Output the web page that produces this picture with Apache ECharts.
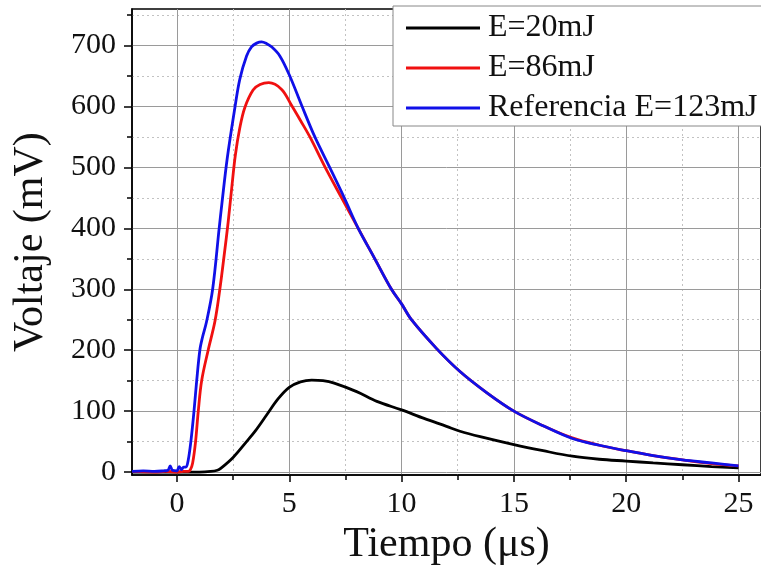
<!DOCTYPE html>
<html><head><meta charset="utf-8">
<script src="https://cdn.jsdelivr.net/npm/echarts@6/dist/echarts.min.js"></script>
<style>html,body{margin:0;padding:0;background:#fff}#c{width:761px;height:571px}</style>
</head><body><div id="c"></div>
<script>
// ---- data ----
const seriesNames = ['E=20mJ', 'E=86mJ', 'Referencia E=123mJ'];

const blackX = [-2, -1, 0, 1, 1.5, 1.8, 1.95, 2.5, 3.1, 3.5, 4.0, 4.5, 5.0, 5.5, 6.0, 6.5, 7.0, 8.0, 8.9, 10, 11, 12, 12.6, 13.5, 15, 16.3, 17.6, 18.8, 20, 21.2, 22.5, 23.8, 25];
const blackY = [0, 0, 0, 0, 1, 3, 6, 24, 50, 68, 94, 120, 139, 148, 151, 150, 146, 132, 116, 102, 88, 75, 67, 58, 45, 35, 26, 21, 18, 15, 12, 9, 7];

const redX = [-2, -1, -0.5, 0, 0.3, 0.5, 0.6, 0.7, 0.83, 0.95, 1.1, 1.39, 1.69, 1.91, 2.1, 2.28, 2.45, 2.6, 2.8, 3.02, 3.39, 3.7, 4.09, 4.66, 5.1, 5.5, 5.92, 6.6, 7.33, 8.07, 8.81, 9.55, 10.0, 10.44, 11.55, 12.6, 13.8, 15.0, 16.3, 17.6, 18.8, 20.0, 21.2, 22.5, 23.8, 25];
const redY = [1, 0, 1, 0, 1, 1, 4, 15, 50, 100, 150, 200, 247, 300, 355, 410, 470, 520, 565, 598, 627, 636, 639, 628, 602, 577, 550, 500, 450, 400, 350, 300, 276, 250, 203, 165, 130, 100, 76, 56, 44, 35, 27, 20, 14, 10];

const blueX = [-2, -1.5, -1, -0.6, -0.4, -0.3, -0.2, 0, 0.1, 0.2, 0.3, 0.4, 0.5, 0.62, 0.76, 0.88, 1.02, 1.13, 1.32, 1.59, 1.88, 2.0, 2.24, 2.58, 2.8, 3.1, 3.32, 3.55, 3.77, 4.0, 4.21, 4.58, 5.0, 5.55, 6.14, 6.8, 7.45, 8.07, 8.81, 9.55, 10.0, 10.44, 11.55, 12.6, 13.8, 15.0, 16.3, 17.6, 18.8, 20.0, 21.2, 22.5, 23.8, 25];
const blueY = [1, 2, 1, 2, 3, 10, 3, 2, 9, 4, 8, 8, 19, 50, 100, 150, 200, 220, 247, 300, 400, 440, 515, 598, 645, 683, 698, 704, 706, 703, 698, 683, 652, 602, 550, 500, 450, 400, 350, 300, 276, 250, 203, 165, 130, 100, 76, 55, 44, 35, 27, 20, 15, 10];

const xMajorTicks = [0, 5, 10, 15, 20, 25];
const xMinorTicks = [2.5, 7.5, 12.5, 17.5, 22.5];
const yMajorTicks = [0, 100, 200, 300, 400, 500, 600, 700];
const yMinorTicks = [50, 150, 250, 350, 450, 550, 650, 750];

const xTitle = 'Tiempo (μs)';
const yTitle = 'Voltaje (mV)';

// ---- chart ----
const FONT = '"Liberation Serif", "Times New Roman", serif';
const pairs = (xs, ys) => xs.map((x, i) => [x, ys[i]]);
const chart = echarts.init(document.getElementById('c'), null, {renderer: 'canvas'});

const tickStyle = {color: '#000', width: 1.5};
const majorGrid = {show: true, lineStyle: {color: '#9a9a9a', width: 1, type: 'solid'}};
const minorGrid = {show: true, lineStyle: {color: '#c2c2c2', width: 1, type: [2, 3]}};

function mkSeries(name, xs, ys, color) {
  return {
    name, type: 'line', data: pairs(xs, ys), xAxisIndex: 0, yAxisIndex: 0,
    showSymbol: false, symbol: 'none', smooth: 0.35,
    lineStyle: {color, width: 2.8}, itemStyle: {color}, z: 3
  };
}

chart.setOption({
  animation: false,
  backgroundColor: '#fff',
  grid: {left: 132, top: 9, right: 0, bottom: 94, show: true, borderColor: '#000', borderWidth: 1.5, backgroundColor: 'transparent'},
  legend: {
    orient: 'vertical', left: 393, top: 6, padding: [6, 40, 2, 13], itemGap: 8,
    itemWidth: 74, itemHeight: 3, icon: 'rect',
    borderColor: '#888', borderWidth: 1, backgroundColor: '#fff',
    textStyle: {fontFamily: FONT, fontSize: 32, color: '#111', lineHeight: 32, padding: [0, 0, 0, 3]},
    data: seriesNames
  },
  xAxis: [
    {
      type: 'value', min: -2, max: 26, position: 'bottom', z: 1,
      axisLine: {show: true, onZero: false, lineStyle: {color: '#000', width: 1.5}},
      axisTick: {show: true, inside: false, length: 7, customValues: xMajorTicks, lineStyle: tickStyle},
      axisLabel: {show: true, customValues: xMajorTicks, margin: 14, fontFamily: FONT, fontSize: 30, color: '#111'},
      splitLine: majorGrid,
      name: xTitle, nameLocation: 'middle', nameGap: 48,
      nameTextStyle: {fontFamily: FONT, fontSize: 42, color: '#111'}
    },
    {
      type: 'value', min: -2, max: 26, position: 'bottom', z: 0,
      axisLine: {show: false, onZero: false},
      axisTick: {show: true, inside: false, length: 5, customValues: xMinorTicks, lineStyle: tickStyle},
      axisLabel: {show: false},
      splitLine: minorGrid
    }
  ],
  yAxis: [
    {
      type: 'value', min: -5, max: 760, position: 'left', z: 1,
      axisLine: {show: true, onZero: false, lineStyle: {color: '#000', width: 1.5}},
      axisTick: {show: true, inside: false, length: 8, customValues: yMajorTicks, lineStyle: tickStyle},
      axisLabel: {show: true, customValues: yMajorTicks, margin: 16, fontFamily: FONT, fontSize: 30, color: '#111'},
      splitLine: majorGrid,
      name: yTitle, nameLocation: 'middle', nameGap: 80, nameRotate: 90,
      nameTextStyle: {fontFamily: FONT, fontSize: 42, color: '#111'}
    },
    {
      type: 'value', min: -5, max: 760, position: 'left', z: 0,
      axisLine: {show: false, onZero: false},
      axisTick: {show: true, inside: false, length: 5, customValues: yMinorTicks, lineStyle: tickStyle},
      axisLabel: {show: false},
      splitLine: minorGrid
    }
  ],
  series: [
    mkSeries(seriesNames[0], blackX, blackY, '#000000'),
    mkSeries(seriesNames[1], redX, redY, '#f01010'),
    mkSeries(seriesNames[2], blueX, blueY, '#1010e8')
  ]
});
</script>
</body></html>
